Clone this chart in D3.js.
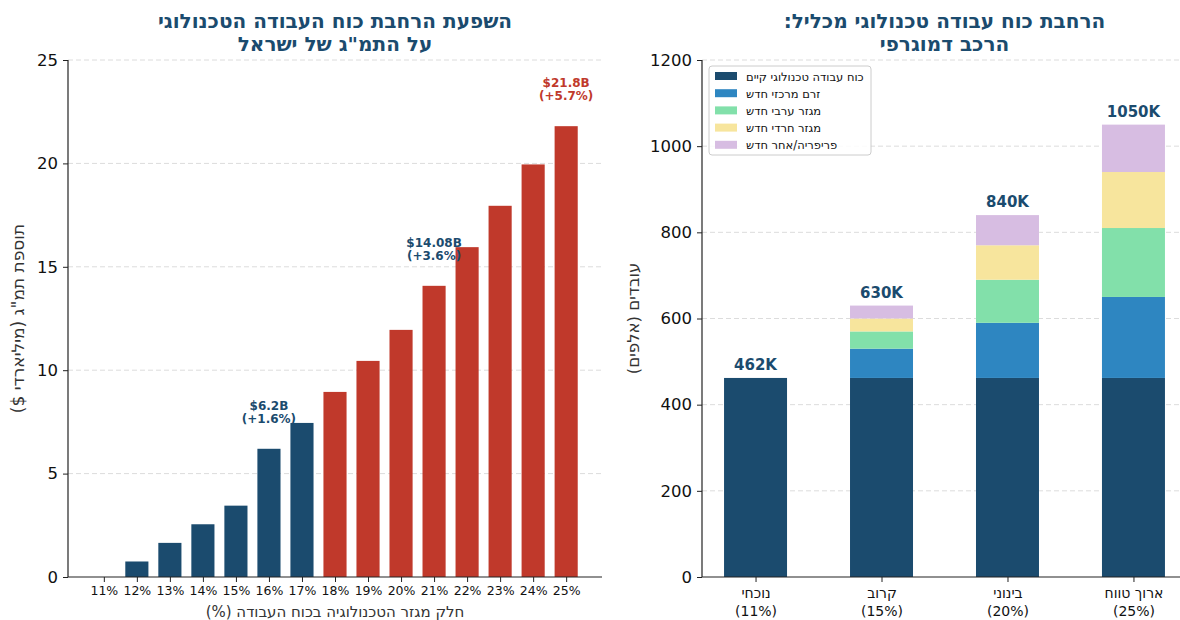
<!DOCTYPE html>
<html><head><meta charset="utf-8">
<script src="https://cdn.jsdelivr.net/npm/d3@7"></script>
<style>
body{margin:0;background:#fff;}
text{font-family:"DejaVu Sans",sans-serif;}
text.heb{direction:rtl; unicode-bidi:embed;}
</style></head><body>
<svg id="c" width="1180" height="620"></svg>
<script>
// ---- Left chart data ----
const techShares = ["11%","12%","13%","14%","15%","16%","17%","18%","19%","20%","21%","22%","23%","24%","25%"];
const gdpAdd = [0, 0.75, 1.65, 2.55, 3.45, 6.2, 7.45, 8.95, 10.45, 11.95, 14.08, 15.95, 17.95, 19.95, 21.8];
const leftYTicks = [0, 5, 10, 15, 20, 25];
const annotIndex = [5, 10, 14];
const annotLine1 = ["$6.2B", "$14.08B", "$21.8B"];
const annotLine2 = ["(+1.6%)", "(+3.6%)", "(+5.7%)"];

// ---- Right chart data ----
const scenarioNames = ["נוכחי", "קרוב", "בינוני", "ארוך טווח"];
const scenarioShares = ["(11%)", "(15%)", "(20%)", "(25%)"];
const seriesNames = ["כוח עבודה טכנולוגי קיים", "זרם מרכזי חדש", "מגזר ערבי חדש", "מגזר חרדי חדש", "פריפריה/אחר חדש"];
const existingWorkers = [462, 462, 462, 462];
const centralNew = [0, 68, 128, 188];
const arabNew = [0, 40, 100, 160];
const harediNew = [0, 30, 80, 130];
const peripheryNew = [0, 30, 70, 110];
const rightYTicks = [0, 200, 400, 600, 800, 1000, 1200];

const BLUE = "#1b4b6e", RED = "#c0392b";
const seriesColors = [BLUE, "#2e86c1", "#82e0aa", "#f7e59d", "#d7bde2"];

const svg = d3.select("#c");

// ================= LEFT CHART =================
const L = {x0: 68, x1: 602, y0: 60, y1: 577};
const xL = d3.scaleLinear().domain([-1.085, 15.085]).range([L.x0, L.x1]);
const yL = d3.scaleLinear().domain([0, 25]).range([L.y1, L.y0]);
const gL = svg.append("g");

gL.selectAll("line.grid").data(leftYTicks.filter(d => d > 0)).enter().append("line")
  .attr("x1", L.x0).attr("x2", L.x1).attr("y1", d => yL(d)).attr("y2", d => yL(d))
  .attr("stroke", "#dcdcdc").attr("stroke-dasharray", "5,3").attr("stroke-width", 1);

const bw = (xL(1) - xL(0)) * 0.7;
gL.selectAll("rect.bar").data(gdpAdd).enter().append("rect")
  .attr("x", (d, i) => xL(i) - bw / 2).attr("width", bw)
  .attr("y", d => yL(d)).attr("height", d => yL(0) - yL(d))
  .attr("fill", (d, i) => i <= 6 ? BLUE : RED);

const axLy = gL.append("g").attr("transform", `translate(${L.x0},0)`)
  .call(d3.axisLeft(yL).tickValues(leftYTicks).tickSize(5).tickPadding(5).tickFormat(d3.format("d")));
const axLx = gL.append("g").attr("transform", `translate(0,${L.y1})`)
  .call(d3.axisBottom(xL).tickValues(d3.range(techShares.length)).tickSize(5).tickPadding(4).tickFormat(i => techShares[i]));
axLy.select(".domain").attr("d", `M0,${L.y0}V${L.y1}`);
axLx.select(".domain").attr("d", `M${L.x0},0H${L.x1}`);
[axLy, axLx].forEach(a => {
  a.selectAll(".domain").attr("stroke", "#222").attr("stroke-width", 1.2);
  a.selectAll(".tick line").attr("stroke", "#222");
  a.selectAll("text").attr("fill", "#111").style("font-family", "DejaVu Sans");
});
axLy.selectAll("text").style("font-size", "16.5px");
axLx.selectAll("text").style("font-size", "12.5px");

annotIndex.forEach((idx, k) => {
  const col = k === 2 ? RED : BLUE;
  const top = yL(gdpAdd[idx]);
  gL.append("text").attr("x", xL(idx)).attr("y", top - 39).attr("text-anchor", "middle")
    .attr("fill", col).style("font-weight", "bold").style("font-size", "12px").text(annotLine1[k]);
  gL.append("text").attr("x", xL(idx)).attr("y", top - 26).attr("text-anchor", "middle")
    .attr("fill", col).style("font-weight", "bold").style("font-size", "12px").text(annotLine2[k]);
});

gL.append("text").attr("class", "heb").attr("x", (L.x0 + L.x1) / 2).attr("y", 617).attr("text-anchor", "middle")
  .attr("fill", "#333").style("font-size", "15px").text("חלק מגזר הטכנולוגיה בכוח העבודה (%)");
gL.append("text").attr("class", "heb").attr("transform", `translate(24,${(L.y0 + L.y1) / 2}) rotate(-90)`).attr("text-anchor", "middle")
  .attr("fill", "#333").style("font-size", "17px").text("תוספת תמ\"ג (מיליארדי $)");
gL.append("text").attr("class", "heb").attr("x", (L.x0 + L.x1) / 2).attr("y", 28).attr("text-anchor", "middle")
  .attr("fill", BLUE).style("font-weight", "bold").style("font-size", "20px").text("השפעת הרחבת כוח העבודה הטכנולוגי");
gL.append("text").attr("class", "heb").attr("x", (L.x0 + L.x1) / 2).attr("y", 51).attr("text-anchor", "middle")
  .attr("fill", BLUE).style("font-weight", "bold").style("font-size", "20px").text("על התמ\"ג של ישראל");

// ================= RIGHT CHART =================
const R = {x0: 702, x1: 1187, y0: 60, y1: 577};
const xR = d3.scaleLinear().domain([-0.425, 3.425]).range([R.x0, R.x1]);
const yR = d3.scaleLinear().domain([0, 1200]).range([R.y1, R.y0]);
const gR = svg.append("g");

gR.selectAll("line.grid").data(rightYTicks.filter(d => d > 0)).enter().append("line")
  .attr("x1", R.x0).attr("x2", 1180).attr("y1", d => yR(d)).attr("y2", d => yR(d))
  .attr("stroke", "#dcdcdc").attr("stroke-dasharray", "5,3").attr("stroke-width", 1);

const seriesData = [existingWorkers, centralNew, arabNew, harediNew, peripheryNew];
const table = scenarioNames.map((n, i) => {
  const o = {i};
  seriesNames.forEach((s, k) => o[s] = seriesData[k][i]);
  return o;
});
const stacked = d3.stack().keys(seriesNames)(table);
const bwR = (xR(1) - xR(0)) * 0.5;
stacked.forEach((layer, k) => {
  gR.selectAll(null).data(layer.filter(d => d[1] > d[0])).enter().append("rect")
    .attr("x", d => xR(d.data.i) - bwR / 2).attr("width", bwR)
    .attr("y", d => yR(d[1])).attr("height", d => yR(d[0]) - yR(d[1]))
    .attr("fill", seriesColors[k]);
});

const totals = table.map((d, i) => d3.sum(seriesData, s => s[i]));
gR.selectAll("text.total").data(totals).enter().append("text")
  .attr("x", (d, i) => xR(i)).attr("y", d => yR(d) - 8).attr("text-anchor", "middle")
  .attr("fill", BLUE).style("font-weight", "bold").style("font-size", "15px").text(d => d + "K");

const axRy = gR.append("g").attr("transform", `translate(${R.x0},0)`)
  .call(d3.axisLeft(yR).tickValues(rightYTicks).tickSize(5).tickPadding(5).tickFormat(d3.format("d")));
const axRx = gR.append("g").attr("transform", `translate(0,${R.y1})`)
  .call(d3.axisBottom(xR).tickValues(d3.range(scenarioNames.length)).tickSize(5).tickPadding(4).tickFormat(() => ""));
axRy.select(".domain").attr("d", `M0,${R.y0}V${R.y1}`);
axRx.select(".domain").attr("d", `M${R.x0},0H1180`);
[axRy, axRx].forEach(a => {
  a.selectAll(".domain").attr("stroke", "#222").attr("stroke-width", 1.2);
  a.selectAll(".tick line").attr("stroke", "#222");
  a.selectAll("text").attr("fill", "#111").style("font-family", "DejaVu Sans");
});
axRy.selectAll("text").style("font-size", "16.5px");
axRx.selectAll(".tick").each(function(i) {
  const t = d3.select(this);
  t.append("text").attr("class", "heb").attr("fill", "#111").attr("text-anchor", "middle").style("font-size", "14px")
    .attr("x", 0).attr("y", 21).text(scenarioNames[i]);
  t.append("text").attr("fill", "#111").attr("text-anchor", "middle").style("font-size", "14px")
    .attr("x", 0).attr("y", 39).text(scenarioShares[i]);
});

gR.append("text").attr("class", "heb").attr("transform", `translate(639,${(R.y0 + R.y1) / 2}) rotate(-90)`).attr("text-anchor", "middle")
  .attr("fill", "#333").style("font-size", "16.5px").text("עובדים (אלפים)");
gR.append("text").attr("class", "heb").attr("x", (R.x0 + R.x1) / 2).attr("y", 28).attr("text-anchor", "middle")
  .attr("fill", BLUE).style("font-weight", "bold").style("font-size", "20px").text("הרחבת כוח עבודה טכנולוגי מכליל:");
gR.append("text").attr("class", "heb").attr("x", (R.x0 + R.x1) / 2).attr("y", 51).attr("text-anchor", "middle")
  .attr("fill", BLUE).style("font-weight", "bold").style("font-size", "20px").text("הרכב דמוגרפי");

// legend
const lg = gR.append("g").attr("transform", "translate(709,66)");
lg.append("rect").attr("width", 162).attr("height", 89).attr("rx", 3)
  .attr("fill", "#fff").attr("fill-opacity", 0.85).attr("stroke", "#ccc");
seriesNames.forEach((s, k) => {
  lg.append("rect").attr("x", 6).attr("y", 6 + k * 17.2).attr("width", 22).attr("height", 8).attr("fill", seriesColors[k]);
  lg.append("text").attr("class", "heb").attr("x", 37).attr("y", 14.5 + k * 17.2).attr("text-anchor", "end")
    .attr("fill", "#111").style("font-size", "11.5px").text(s);
});
</script></body></html>
